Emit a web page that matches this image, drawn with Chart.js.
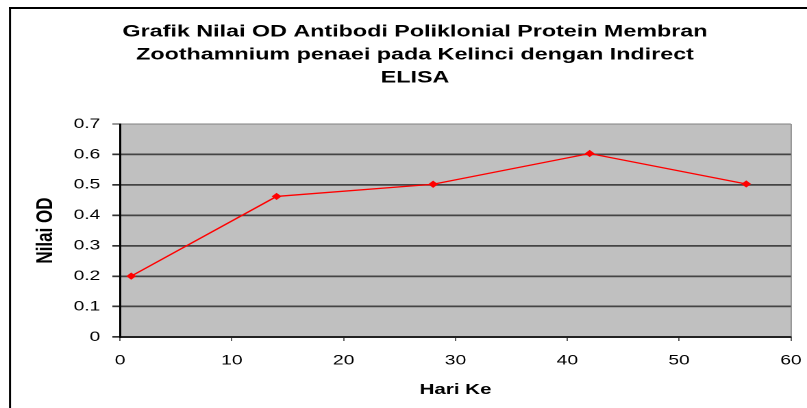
<!DOCTYPE html>
<html>
<head>
<meta charset="utf-8">
<script src="https://cdn.jsdelivr.net/npm/chart.js@4/dist/chart.umd.min.js"></script>
<style>
html, body { margin: 0; padding: 0; background: #fff; overflow: hidden; }
#wrap { position: absolute; left: 0; top: 0; width: 589px; height: 408px; transform: scaleX(1.3701); transform-origin: 0 0; }
#c { display: block; width: 589px; height: 408px; }
</style>
</head>
<body>
<div id="wrap"><canvas id="c" width="589" height="408"></canvas></div>
<script>
const titleLines = [
  'Grafik Nilai OD Antibodi Poliklonial Protein Membran',
  'Zoothamnium penaei pada Kelinci dengan Indirect',
  'ELISA'
];
const xAxisTitle = 'Hari Ke';
const yAxisTitle = 'Nilai OD';
const hariKe = [1, 14, 28, 42, 56];
const nilaiOD = [0.2, 0.462, 0.502, 0.603, 0.503];
const xTickLabels = ['0', '10', '20', '30', '40', '50', '60'];
const yTickLabels = ['0', '0.1', '0.2', '0.3', '0.4', '0.5', '0.6', '0.7'];

const FONT = "'Liberation Sans', Arial, sans-serif";

const framePlugin = {
  id: 'frame',
  beforeDraw(chart) {
    const { ctx, chartArea: a } = chart;
    ctx.save();
    ctx.fillStyle = '#c0c0c0';
    ctx.fillRect(a.left, a.top, a.right - a.left, a.bottom - a.top);
    ctx.strokeStyle = '#000';
    ctx.lineWidth = 1.5;
    ctx.beginPath();
    ctx.moveTo(7.3, 410);
    ctx.lineTo(7.3, 8);
    ctx.stroke();
    ctx.lineWidth = 2;
    ctx.beginPath();
    ctx.moveTo(6.5, 8);
    ctx.lineTo(600, 8);
    ctx.stroke();
    ctx.restore();
  }
};

const near = (a, b) => Math.abs(a - b) < 1e-6;

new Chart(document.getElementById('c'), {
  type: 'line',
  data: {
    datasets: [{
      data: hariKe.map((x, i) => ({ x: x, y: nilaiOD[i] })),
      borderColor: '#ff0000',
      borderWidth: 1.3,
      backgroundColor: '#ff0000',
      pointStyle: 'rectRot',
      pointRadius: 3.6,
      pointBorderWidth: 0,
      pointBackgroundColor: '#ff0000',
      tension: 0
    }]
  },
  options: {
    responsive: false,
    maintainAspectRatio: false,
    devicePixelRatio: 2,
    animation: false,
    layout: { padding: { left: 28.5, right: 11.7, top: 20.5, bottom: 0 } },
    plugins: {
      legend: { display: false },
      tooltip: { enabled: false },
      title: {
        display: true,
        text: titleLines,
        color: '#000',
        font: { family: FONT, size: 17, weight: 'bold', lineHeight: 1.353 },
        padding: { top: 0, bottom: 34.5 }
      }
    },
    scales: {
      x: {
        type: 'linear',
        min: 0,
        max: 60,
        afterFit(scale) {
          scale.height = 71;
          scale.paddingLeft = 0;
          scale.paddingRight = 8;
        },
        ticks: {
          stepSize: 10,
          color: '#000',
          padding: 11,
          maxRotation: 0,
          font: { family: FONT, size: 14 },
          callback: (v, i) => xTickLabels[i]
        },
        grid: {
          drawOnChartArea: true,
          color: ctx => (ctx.tick && near(ctx.tick.value, 60)) ? '#808080' : 'rgba(0,0,0,0)',
          lineWidth: 0.8,
          tickColor: '#333',
          tickLength: 4
        },
        border: { display: true, color: '#222', width: 1.5 },
        title: {
          display: true,
          text: xAxisTitle,
          color: '#000',
          font: { family: FONT, size: 15, weight: 'bold', lineHeight: 1.2 },
          padding: { top: 0, bottom: 9 }
        }
      },
      y: {
        min: 0,
        max: 0.7,
        afterFit(scale) { scale.width = 59.1; },
        ticks: {
          stepSize: 0.1,
          color: '#000',
          padding: 8.8,
          font: { family: FONT, size: 14 },
          callback: (v, i) => yTickLabels[i]
        },
        grid: {
          color: ctx => {
            const v = ctx.tick ? ctx.tick.value : 0;
            if (near(v, 0.7)) return '#808080';
            if (near(v, 0)) return '#222';
            return '#444';
          },
          lineWidth: ctx => {
            const v = ctx.tick ? ctx.tick.value : 0;
            return near(v, 0.7) ? 1 : 1.7;
          },
          tickColor: '#333',
          tickLength: 5.6
        },
        border: { display: true, color: '#000', width: 1.5 },
        title: {
          display: true,
          text: yAxisTitle,
          color: '#000',
          font: { family: FONT, size: 17, weight: 'bold', lineHeight: 1.2 },
          padding: { top: -5.3, bottom: 0 }
        }
      }
    }
  },
  plugins: [framePlugin]
});
</script>
</body>
</html>
